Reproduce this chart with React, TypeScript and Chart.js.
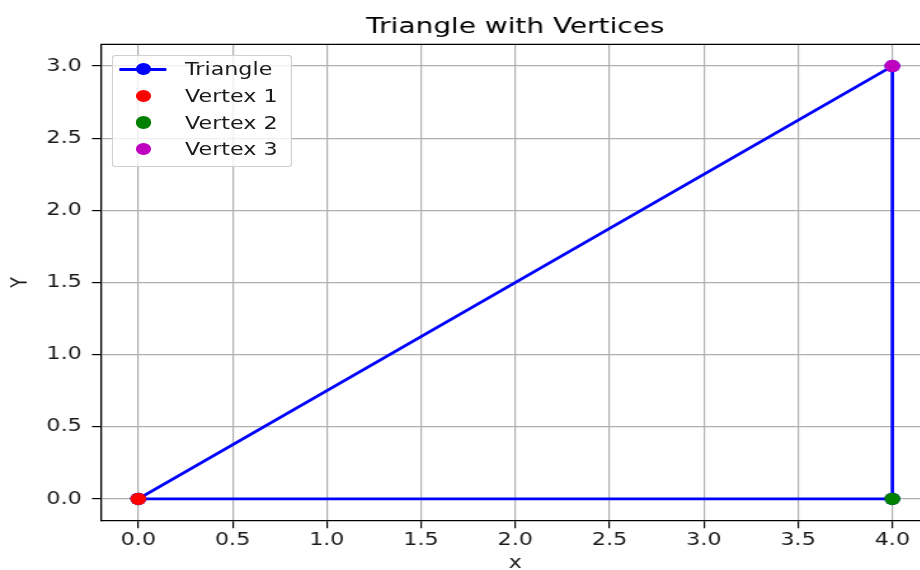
import React, { useEffect, useRef } from "react";
import { Chart, registerables } from "chart.js";

Chart.register(...registerables);

// ---- data ----
const chartTitle = "Triangle with Vertices";
const xAxisLabel = "x";
const yAxisLabel = "Y";
const triangleLabel = "Triangle";
const triangleX = [0, 4, 4, 0];
const triangleY = [0, 0, 3, 0];
const vertexLabels = ["Vertex 1", "Vertex 2", "Vertex 3"];
const vertexX = [0, 4, 4];
const vertexY = [0, 0, 3];
const xTicks = [0, 0.5, 1, 1.5, 2, 2.5, 3, 3.5, 4];
const yTicks = [0, 0.5, 1, 1.5, 2, 2.5, 3];
const xRange = [-0.2, 4.2];
const yRange = [-0.15, 3.15];

// ---- styles ----
const TRIANGLE_COLOR = "#0000ff";
const VERTEX_COLORS = ["#ff0000", "#008000", "#bf00bf"];
const FONT = "'DejaVu Sans', sans-serif";
const TEXT_COLOR = "#1a1a1a";
const STRETCH = 1.27;
const W = 745;
const H = 570;
const AREA = { left: 79.2, right: 732.3, top: 44.4, bottom: 520.6 };
const POINT_R = 6.2;

const framePlugin = {
  id: "frame",
  beforeDatasetsDraw(chart: any) {
    const { ctx, chartArea: a } = chart;
    ctx.save();
    ctx.strokeStyle = "#000";
    ctx.lineWidth = 1.3;
    ctx.beginPath();
    ctx.moveTo(a.left, a.top);
    ctx.lineTo(a.right, a.top);
    ctx.lineTo(a.right, a.bottom);
    ctx.stroke();
    ctx.restore();
  },
};

export default function App() {
  const canvasRef = useRef<HTMLCanvasElement | null>(null);

  useEffect(() => {
    if (!canvasRef.current) return;
    const datasets: any[] = [
      {
        label: triangleLabel,
        data: triangleX.map((x, i) => ({ x, y: triangleY[i] })),
        showLine: true,
        borderColor: TRIANGLE_COLOR,
        backgroundColor: TRIANGLE_COLOR,
        borderWidth: 2.7,
        pointRadius: POINT_R,
        pointBorderWidth: 0,
        pointBackgroundColor: TRIANGLE_COLOR,
        tension: 0,
        order: 1,
      },
      ...vertexLabels.map((label, i) => ({
        label,
        data: [{ x: vertexX[i], y: vertexY[i] }],
        showLine: false,
        backgroundColor: VERTEX_COLORS[i],
        borderColor: VERTEX_COLORS[i],
        pointRadius: POINT_R,
        pointBorderWidth: 0,
        order: 0,
      })),
    ];

    const tickFont = { family: FONT, size: 17.5, lineHeight: 1.2 };
    const chart = new Chart(canvasRef.current, {
      type: "scatter",
      data: { datasets },
      plugins: [framePlugin],
      options: {
        responsive: false,
        animation: false,
        devicePixelRatio: 1,
        layout: { padding: { left: 0, right: W - AREA.right, top: 0, bottom: 0 } },
        plugins: {
          legend: { display: false },
          tooltip: { enabled: false },
          title: {
            display: true,
            text: chartTitle,
            fullSize: false,
            color: "#000",
            font: { family: FONT, size: 22, weight: "normal", lineHeight: 1.2 },
            padding: { top: 13.6, bottom: AREA.top - 13.6 - 26.4 },
          },
        },
        scales: {
          x: {
            type: "linear",
            min: xRange[0],
            max: xRange[1],
            afterFit(s: any) {
              s.height = H - AREA.bottom;
            },
            afterBuildTicks(s: any) {
              s.ticks = xTicks.map((v) => ({ value: v }));
            },
            ticks: {
              callback: (v: any) => Number(v).toFixed(1),
              font: tickFont,
              color: TEXT_COLOR,
              padding: 2,
              maxRotation: 0,
              autoSkip: false,
            },
            grid: { color: "#b0b0b0", lineWidth: 1.2, tickLength: 7.7, tickColor: "#000", tickWidth: 1.2 },
            border: { display: true, color: "#000", width: 1.3 },
            title: {
              display: true,
              text: xAxisLabel,
              color: TEXT_COLOR,
              font: { family: FONT, size: 17.5, lineHeight: 0.8 },
              padding: { top: 0, bottom: 0 },
            },
          },
          y: {
            type: "linear",
            min: yRange[0],
            max: yRange[1],
            afterFit(s: any) {
              s.width = AREA.left;
            },
            afterBuildTicks(s: any) {
              s.ticks = yTicks.map((v) => ({ value: v }));
            },
            ticks: {
              callback: (v: any) => Number(v).toFixed(1),
              font: tickFont,
              color: TEXT_COLOR,
              padding: 8,
              autoSkip: false,
            },
            grid: { color: "#b0b0b0", lineWidth: 1.2, tickLength: 6.8, tickColor: "#000", tickWidth: 1.2 },
            border: { display: true, color: "#000", width: 1.3 },
            title: {
              display: true,
              text: yAxisLabel,
              color: TEXT_COLOR,
              font: { family: FONT, size: 17.5, lineHeight: 1 },
              padding: { top: 8, bottom: 0 },
            },
          },
        },
      } as any,
    });
    return () => chart.destroy();
  }, []);

  const legendItems = [
    { label: triangleLabel, color: TRIANGLE_COLOR, line: true },
    ...vertexLabels.map((label, i) => ({ label, color: VERTEX_COLORS[i], line: false })),
  ];
  const legendLeft = 88;
  const legendTop = 55;
  const rowStart = 69.3;
  const rowStep = 26.6;
  const markerX = 112.8;
  const lineL = 93.7;
  const lineR = 131.5;
  const textX = 145.7;

  return (
    <div
      style={{
        position: "fixed",
        left: 0,
        top: 0,
        width: 920,
        height: 570,
        overflow: "hidden",
        background: "#fff",
      }}
    >
      <div
        style={{
          position: "absolute",
          left: 0,
          top: 0,
          width: W,
          height: H,
          transform: `scaleX(${STRETCH})`,
          transformOrigin: "0 0",
        }}
      >
        <canvas ref={canvasRef} width={W} height={H} style={{ display: "block" }} />
        <div
          style={{
            position: "absolute",
            left: legendLeft,
            top: legendTop,
            width: 141.7,
            height: 111.7,
            boxSizing: "border-box",
            border: "1px solid #d0d0d0",
            borderRadius: 3,
            background: "rgba(255,255,255,0.8)",
          }}
        />
        {legendItems.map((it, i) => {
          const cy = rowStart + i * rowStep;
          return (
            <React.Fragment key={it.label}>
              {it.line && (
                <div
                  style={{
                    position: "absolute",
                    left: lineL,
                    top: cy - 1.35,
                    width: lineR - lineL,
                    height: 2.7,
                    background: it.color,
                  }}
                />
              )}
              <div
                style={{
                  position: "absolute",
                  left: markerX - POINT_R,
                  top: cy - POINT_R,
                  width: POINT_R * 2,
                  height: POINT_R * 2,
                  borderRadius: "50%",
                  background: it.color,
                }}
              />
              <div
                style={{
                  position: "absolute",
                  left: textX,
                  top: cy - 12,
                  height: 24,
                  lineHeight: "24px",
                  fontFamily: FONT,
                  fontSize: 17.5,
                  color: TEXT_COLOR,
                  whiteSpace: "nowrap",
                }}
              >
                {it.label}
              </div>
            </React.Fragment>
          );
        })}
      </div>
    </div>
  );
}
